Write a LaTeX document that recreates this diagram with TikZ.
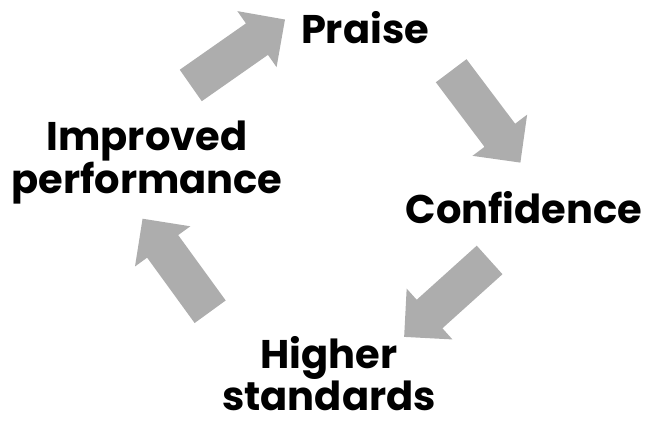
\documentclass[tikz,border=0pt]{standalone}
\usepackage{fontspec}
\setmainfont{Poppins}
\usepackage{tikz}
\usetikzlibrary{positioning,shapes.arrows}
\definecolor{arr}{HTML}{ADADAD}
\tikzset{
  word/.style={font=\fontsize{40}{40}\selectfont\bfseries, align=center, inner sep=0pt},
  bigarrow/.style={single arrow, fill=arr, draw=none, inner xsep=0pt, inner ysep=19pt,
                   single arrow head extend=15pt, minimum height=115pt},
}
\begin{document}
\begin{tikzpicture}[x=1pt, y=-1pt]
  \useasboundingbox (0,0) rectangle (647,425);
  % the four stages
  \node[word, anchor=base] (praise) at (365,44) {Praise};
  \node[word, anchor=base] (conf) at (524,223) {Confidence};
  \node[word, anchor=south] (higher) at (329,411) {Higher\\standards};
  \node[word, anchor=north] (impr) at (147,121) {Improved\\performance};
  % block arrows round the cycle
  \node[bigarrow, rotate=35] (a1) at (230,58) {};
  \node[bigarrow, rotate=-53] (a2) at (480,109) {};
  \node[bigarrow, rotate=222] (a3) at (454,292) {};
  \node[bigarrow, rotate=126] (a4) at (182,273) {};
\end{tikzpicture}
\end{document}
